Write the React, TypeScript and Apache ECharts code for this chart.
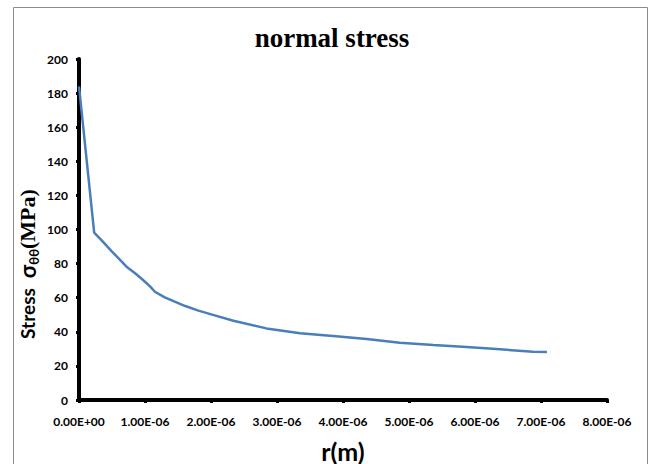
import React, { useEffect, useRef } from 'react';
import * as echarts from 'echarts';

// r (m)
const rValues = [
  0, 0.23e-6, 0.34e-6, 0.5e-6, 0.6e-6, 0.72e-6, 0.85e-6, 0.97e-6, 1.08e-6, 1.15e-6,
  1.3e-6, 1.45e-6, 1.61e-6, 1.81e-6, 2.03e-6, 2.34e-6, 2.84e-6, 3.35e-6, 3.85e-6,
  4.36e-6, 4.86e-6, 5.37e-6, 5.87e-6, 6.38e-6, 6.88e-6, 7.09e-6,
];
// normal stress sigma_theta_theta (MPa)
const stressValues = [
  184, 98.1, 93.8, 87.0, 83.1, 78.2, 74.3, 70.4, 66.5, 63.5,
  60.2, 57.7, 55.1, 52.4, 49.9, 46.5, 42.0, 39.1, 37.5,
  35.8, 33.6, 32.3, 31.1, 29.7, 28.3, 28.2,
];
const xTickLabels = [
  '0.00E+00', '1.00E-06', '2.00E-06', '3.00E-06', '4.00E-06',
  '5.00E-06', '6.00E-06', '7.00E-06', '8.00E-06',
];

export default function App() {
  const ref = useRef<HTMLDivElement>(null);
  useEffect(() => {
    const chart = echarts.init(ref.current!, null, { renderer: 'svg' });
    chart.setOption({
      animation: false,
      backgroundColor: '#ffffff',
      grid: { left: 79, right: 46, top: 59, bottom: 64, containLabel: false, outerBoundsMode: 'none' },
      xAxis: {
        type: 'value',
        min: 0,
        max: 8e-6,
        interval: 1e-6,
        name: 'r(m)',
        nameLocation: 'middle',
        nameGap: 38,
        nameTextStyle: { fontFamily: 'Lato', fontWeight: 'bold', fontSize: 25, color: '#000' },
        axisLine: { lineStyle: { color: '#000', width: 4 } },
        axisTick: { show: true, length: 3, lineStyle: { color: '#000', width: 3 } },
        axisLabel: {
          margin: 15,
          fontFamily: 'Lato',
          fontWeight: 'bold',
          fontSize: 12,
          color: '#000',
          formatter: (v: number) => xTickLabels[Math.round(v / 1e-6)] ?? '',
        },
        splitLine: { show: false },
      },
      yAxis: {
        type: 'value',
        min: 0,
        max: 200,
        interval: 20,
        axisLine: { show: true, lineStyle: { color: '#000', width: 4 } },
        axisTick: { show: true, length: 3, lineStyle: { color: '#000', width: 3 } },
        axisLabel: { margin: 11, fontFamily: 'Lato', fontWeight: 'bold', fontSize: 12, color: '#000' },
        splitLine: { show: false },
      },
      graphic: [
        {
          type: 'rect',
          shape: { x: 13.5, y: 7.5, width: 634, height: 480 },
          style: { fill: 'none', stroke: '#8c8c8c', lineWidth: 1 },
          silent: true,
        },
        {
          type: 'text',
          x: 332,
          y: 38,
          style: {
            text: 'normal stress',
            font: 'bold 27px "Liberation Serif"',
            fill: '#000',
            align: 'center',
            verticalAlign: 'middle',
          },
        },
        {
          type: 'text',
          x: 27,
          y: 264,
          rotation: Math.PI / 2,
          style: {
            text: '{a|Stress}   {b|σ}{c|θθ}{d|(MPa)}',
            align: 'center',
            verticalAlign: 'middle',
            fill: '#000',
            rich: {
              a: { fontFamily: 'Lato', fontWeight: 'bold', fontSize: 19, lineHeight: 26, fill: '#000', verticalAlign: 'middle' },
              b: { fontFamily: 'Lato', fontWeight: 'bold', fontSize: 22, lineHeight: 26, fill: '#000', verticalAlign: 'middle' },
              c: { fontFamily: 'Lato', fontWeight: 'bold', fontSize: 13, lineHeight: 16, fill: '#000', verticalAlign: 'bottom' },
              d: { fontFamily: 'Liberation Serif', fontWeight: 'bold', fontSize: 22, lineHeight: 26, fill: '#000', verticalAlign: 'middle' },
            },
          },
        },
      ],
      series: [
        {
          type: 'line',
          showSymbol: false,
          symbol: 'none',
          lineStyle: { color: '#4a7ebb', width: 2.5 },
          data: rValues.map((r, i) => [r, stressValues[i]]),
        },
      ],
    });
    return () => chart.dispose();
  }, []);
  return (
    <div
      ref={ref}
      style={{ position: 'fixed', left: 0, top: 0, width: 653, height: 464, background: '#fff' }}
    />
  );
}
